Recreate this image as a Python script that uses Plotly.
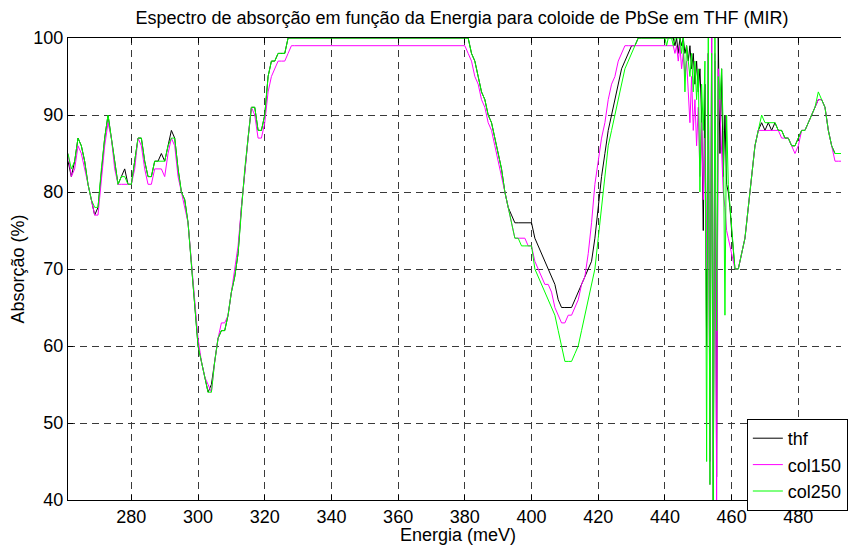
import plotly.graph_objects as go

# Energy axis (meV): 1 meV steps, coarser on the saturated plateau, 0.5 meV in the noisy band
energia = [
    261, 262, 263, 264, 265, 266, 267, 268, 269, 270,
    271, 272, 273, 274, 275, 276, 277, 278, 279, 280,
    281, 282, 283, 284, 285, 286, 287, 288, 289, 290,
    291, 292, 293, 294, 295, 296, 297, 298, 299, 300,
    301, 302, 303, 304, 305, 306, 307, 308, 309, 310,
    311, 312, 313, 314, 315, 316, 317, 318, 319, 320,
    321, 322, 323, 324, 325, 326, 327, 328, 329, 330,
    335, 340, 345, 350, 355, 360, 365, 370, 375, 380,
    381, 382, 383, 384, 385, 386, 387, 388, 389, 390,
    391, 392, 393, 394, 395, 396, 397, 398, 399, 400,
    401, 402, 403, 404, 405, 406, 407, 408, 409, 410,
    411, 412, 413, 414, 415, 416, 417, 418, 419, 420,
    421, 422, 423, 424, 425, 426, 427, 428, 429, 430,
    431, 432, 433, 434, 435, 436, 437, 438, 439,
    440.0, 440.5, 441.0, 441.5, 442.0, 442.5, 443.0, 443.5, 444.0, 444.5,
    445.0, 445.5, 446.0, 446.5, 447.0, 447.5, 448.0, 448.5, 449.0, 449.5,
    450.0, 450.5, 451.0, 451.5, 452.0, 452.5, 453.0, 453.5, 454.0, 454.5,
    455.0, 455.5, 456.0, 456.5, 457.0, 457.5, 458.0, 458.5, 459.0, 459.5,
    460.0, 460.5, 461.0,
    462, 463, 464, 465, 466, 467, 468, 469, 470,
    471, 472, 473, 474, 475, 476, 477, 478, 479, 480,
    481, 482, 483, 484, 485, 486, 487, 488, 489, 490,
    491, 492, 493,
]

# Absorption (%) for the pure solvent
thf = [
    84, 82, 84, 87, 86, 84, 81, 79, 77, 78,
    83, 87, 90, 87, 84, 81, 82, 83, 81, 81,
    84, 87, 87, 84, 82, 82, 84, 84, 85, 84,
    86, 88, 87, 83, 80, 79, 76, 71, 66, 60,
    58, 56, 54, 55, 58, 61, 62, 62, 64, 67,
    69, 72, 78, 83, 87, 91, 91, 88, 88, 90,
    95, 97, 97, 98, 98, 98, 100, 100, 100, 100,
    100, 100, 100, 100, 100, 100, 100, 100, 100, 100,
    100, 98, 97, 95, 93, 92, 90, 89, 87, 85,
    83, 80, 78, 77, 76, 76, 76, 76, 76, 76,
    74, 73, 72, 71, 70, 69, 68, 66, 65, 65,
    65, 65, 66, 67, 68, 69, 70, 71, 74, 78,
    82, 85, 88, 90, 92, 94, 96, 97, 98, 99,
    99, 100, 100, 100, 100, 100, 100, 100, 100,
    100, 100, 100, 100, 100, 100, 99, 100, 98, 100,
    99, 100, 98, 99, 97, 99, 96, 98, 94, 97,
    93, 96, 90, 75, 94, 60, 98, 45, 100, 40,
    97, 43, 100, 85, 96, 82, 90, 81, 80, 78,
    75, 72, 70,
    70, 72, 74, 78, 82, 86, 88, 89, 88,
    89, 88, 89, 88, 88, 87, 87, 86, 86, 87,
    88, 88, 89, 90, 91, 92, 92, 91, 88, 86,
    85, 85, 85,
]

# Absorption (%) for colloid 150
col150 = [
    85, 82, 83, 86, 85, 83, 81, 79, 77, 77,
    82, 86, 89, 87, 83, 81, 81, 81, 81, 81,
    83, 87, 86, 83, 81, 81, 83, 83, 83, 82,
    85, 87, 86, 82, 80, 78, 76, 71, 66, 61,
    58, 56, 55, 54, 58, 61, 63, 63, 64, 67,
    70, 73, 78, 83, 87, 91, 90, 87, 87, 89,
    93, 95, 96, 97, 97, 97, 98, 99, 99, 99,
    99, 99, 99, 99, 99, 99, 99, 99, 99, 99,
    98, 97, 95, 94, 92, 91, 89, 88, 86, 84,
    82, 80, 78, 76, 74, 74, 74, 74, 73, 73,
    71, 70, 69, 68, 68, 67, 65, 64, 63, 63,
    64, 64, 65, 66, 68, 69, 72, 76, 81, 84,
    87, 89, 92, 94, 95, 97, 98, 99, 99, 99,
    99, 99, 99, 99, 99, 99, 99, 99, 99,
    99, 99, 99, 99, 99, 99, 98, 99, 97, 99,
    96, 98, 95, 97, 93, 89, 95, 88, 92, 86,
    91, 82, 89, 79, 87, 70, 98, 42, 100, 45,
    98, 40, 96, 90, 85, 80, 78, 75, 74, 73,
    72, 71, 70,
    70, 72, 74, 78, 82, 86, 88, 88, 88,
    88, 88, 88, 88, 87, 87, 87, 86, 85, 86,
    88, 88, 89, 90, 91, 92, 92, 91, 88, 86,
    84, 84, 84,
]

# Absorption (%) for colloid 250
col250 = [
    85, 83, 84, 87, 86, 84, 81, 79, 78, 78,
    83, 87, 90, 87, 84, 81, 82, 82, 81, 81,
    84, 87, 87, 84, 82, 82, 84, 84, 84, 84,
    86, 87, 87, 83, 80, 79, 76, 71, 66, 60,
    58, 56, 54, 54, 58, 61, 62, 62, 64, 67,
    69, 72, 78, 83, 87, 91, 91, 88, 88, 90,
    95, 97, 97, 98, 98, 98, 100, 100, 100, 100,
    100, 100, 100, 100, 100, 100, 100, 100, 100, 100,
    100, 98, 97, 95, 93, 92, 90, 89, 87, 85,
    83, 80, 78, 76, 74, 74, 73, 73, 73, 73,
    70, 69, 68, 67, 66, 65, 64, 62, 60, 58,
    58, 58, 59, 60, 62, 64, 66, 68, 70, 74,
    78, 82, 86, 88, 90, 92, 94, 96, 97, 98,
    99, 100, 100, 100, 100, 100, 100, 100, 100,
    100, 99, 100, 100, 100, 99, 100, 100, 100, 100,
    98, 100, 93, 99, 97, 95, 98, 93, 97, 92,
    96, 80, 94, 88, 97, 45, 100, 42, 98, 40,
    100, 62, 95, 92, 96, 88, 64, 90, 81, 78,
    75, 72, 70,
    70, 72, 74, 78, 82, 86, 88, 90, 89,
    89, 89, 89, 88, 88, 87, 87, 86, 86, 87,
    88, 88, 89, 90, 91, 93, 92, 91, 88, 86,
    85, 85, 85,
]

series = [
    ("thf", thf, "#000000"),
    ("col150", col150, "#ff00ff"),
    ("col250", col250, "#00ff00"),
]

x_ticks = [280, 300, 320, 340, 360, 380, 400, 420, 440, 460, 480]
y_ticks = [40, 50, 60, 70, 80, 90, 100]

FONT = "Liberation Sans, Arial, Helvetica, sans-serif"
FS = 18

fig = go.Figure()
for name, vals, color in series:
    fig.add_trace(go.Scatter(
        x=energia, y=vals, mode="lines", name=name, legendgroup=name,
        line=dict(color=color, width=1),
    ))

axis_common = dict(
    showline=True, linecolor="black", linewidth=1,
    ticks="inside", ticklen=5, tickcolor="black", tickwidth=1,
    showgrid=True, gridcolor="#3a3a3a", gridwidth=1, griddash="7px,5px",
    zeroline=False, layer="below traces",
    tickfont=dict(family=FONT, size=FS, color="black"),
)

fig.update_xaxes(
    range=[261, 492.8], tickvals=x_ticks, ticktext=[str(v) for v in x_ticks],
    mirror="ticks", **axis_common,
)
fig.update_yaxes(
    range=[40, 100], tickvals=y_ticks, ticktext=[str(v) for v in y_ticks],
    mirror=False, **axis_common,
)

fig.update_layout(
    width=848, height=545,
    margin=dict(l=68, r=0, t=38, b=45),
    paper_bgcolor="white", plot_bgcolor="white",
    font=dict(family=FONT, size=FS, color="black"),
    title=dict(
        text="Espectro de absorção em função da Energia para coloide de PbSe em THF (MIR)",
        x=462 / 848, xanchor="center", xref="container",
        y=1 - 18 / 545, yanchor="middle", yref="container",
        font=dict(family=FONT, size=FS, color="black"),
    ),
    legend=dict(
        x=(753 - 68) / 780, y=(500 - 419) / 462, xanchor="left", yanchor="top",
        bgcolor="white", bordercolor="black", borderwidth=1,
        tracegroupgap=0, traceorder="normal",
        font=dict(family=FONT, size=FS, color="black"),
    ),
    annotations=[
        dict(text="Energia (meV)", x=(462 - 68) / 780, xref="paper", xanchor="center",
             y=-35 / 462, yref="paper", yanchor="middle", showarrow=False,
             font=dict(family=FONT, size=FS, color="black")),
        dict(text="Absorção (%)", x=-50 / 780, xref="paper", xanchor="center",
             y=0.5, yref="paper", yanchor="middle", textangle=-90, showarrow=False,
             font=dict(family=FONT, size=FS, color="black")),
    ],
)

fig.write_html("out.html")
